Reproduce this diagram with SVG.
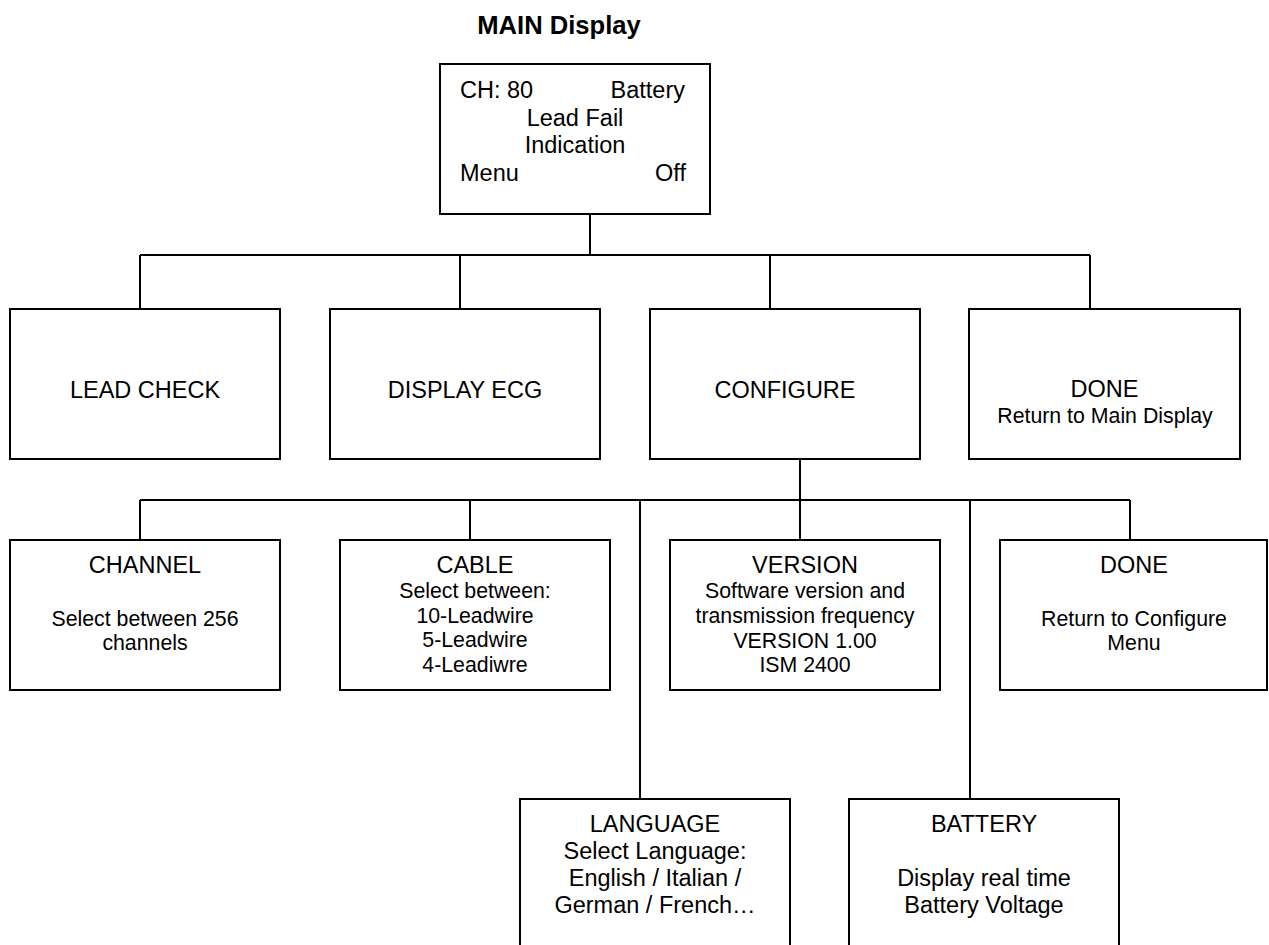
<svg xmlns="http://www.w3.org/2000/svg" width="1269" height="945" viewBox="0 0 1269 945">
<style>
rect.box{fill:#fff;stroke:#000;stroke-width:2}
.conn path{fill:none;stroke:#000;stroke-width:2}
text{font-family:"Liberation Sans",Arial,sans-serif;fill:#000}
.t{font-size:23.5px;text-anchor:middle}
.s{font-size:21.3px;text-anchor:middle}
.title{font-size:25.6px;font-weight:bold;text-anchor:middle}
</style>
<rect width="1269" height="945" fill="#fff"/>
<text class="title" x="559" y="34">MAIN Display</text>
<g class="conn" id="connectors">
<path d="M590 214V255M140 255H1090M140 255V309M460 255V309M770 255V309M1090 255V309"/>
<path d="M800 459V500M140 500H1130M140 500V540M470 500V540M800 500V540M1130 500V540M640 500V799M970 500V799"/>
</g>
<g id="main">
<rect class="box" x="440" y="64" width="270" height="150"/>
<text class="t" x="460" y="98" style="text-anchor:start">CH: 80</text>
<text class="t" x="685" y="98" style="text-anchor:end">Battery</text>
<text class="t" x="575" y="125.5">Lead Fail</text>
<text class="t" x="575" y="153">Indication</text>
<text class="t" x="460" y="180.5" style="text-anchor:start">Menu</text>
<text class="t" x="686" y="180.5" style="text-anchor:end">Off</text>
</g>
<g id="leadcheck">
<rect class="box" x="10" y="309" width="270" height="150"/>
<text class="t" x="145" y="398">LEAD CHECK</text>
</g>
<g id="displayecg">
<rect class="box" x="330" y="309" width="270" height="150"/>
<text class="t" x="465" y="398">DISPLAY ECG</text>
</g>
<g id="configure">
<rect class="box" x="650" y="309" width="270" height="150"/>
<text class="t" x="785" y="398">CONFIGURE</text>
</g>
<g id="done1">
<rect class="box" x="969" y="309" width="271" height="150"/>
<text class="t" x="1104.5" y="397">DONE</text>
<text class="s" x="1105" y="423">Return to Main Display</text>
</g>
<g id="channel">
<rect class="box" x="10" y="540" width="270" height="150"/>
<text class="t" x="145" y="573">CHANNEL</text>
<text class="s" x="145" y="626">Select between 256</text>
<text class="s" x="145" y="650">channels</text>
</g>
<g id="cable">
<rect class="box" x="340" y="540" width="270" height="150"/>
<text class="t" x="475" y="573">CABLE</text>
<text class="s" x="475" y="598">Select between:</text>
<text class="s" x="475" y="623">10-Leadwire</text>
<text class="s" x="475" y="647">5-Leadwire</text>
<text class="s" x="475" y="672">4-Leadiwre</text>
</g>
<g id="version">
<rect class="box" x="670" y="540" width="270" height="150"/>
<text class="t" x="805" y="573">VERSION</text>
<text class="s" x="805" y="598">Software version and</text>
<text class="s" x="805" y="623">transmission frequency</text>
<text class="s" x="805" y="648">VERSION 1.00</text>
<text class="s" x="805" y="672">ISM 2400</text>
</g>
<g id="done2">
<rect class="box" x="1000" y="540" width="267" height="150"/>
<text class="t" x="1134" y="573">DONE</text>
<text class="s" x="1134" y="626">Return to Configure</text>
<text class="s" x="1134" y="650">Menu</text>
</g>
<g id="language">
<rect class="box" x="520" y="799" width="270" height="170"/>
<text class="t" x="655" y="832">LANGUAGE</text>
<text class="t" x="655" y="859">Select Language:</text>
<text class="t" x="655" y="886">English / Italian /</text>
<text class="t" x="655" y="913">German / French…</text>
</g>
<g id="battery">
<rect class="box" x="849" y="799" width="270" height="170"/>
<text class="t" x="984" y="832">BATTERY</text>
<text class="t" x="984" y="886">Display real time</text>
<text class="t" x="984" y="913">Battery Voltage</text>
</g>
</svg>
